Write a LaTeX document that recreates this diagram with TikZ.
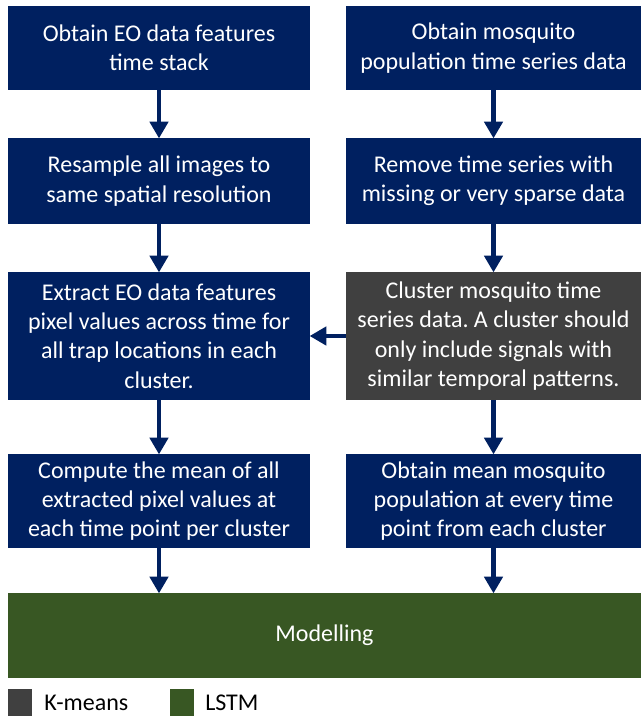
\documentclass[tikz,border=0pt]{standalone}
\usepackage{fontspec}
\setmainfont{Carlito}
\usetikzlibrary{arrows.meta}
\frenchspacing

\definecolor{navy}{RGB}{0,32,96}
\definecolor{kgray}{RGB}{64,64,64}
\definecolor{lgreen}{RGB}{56,87,35}

\tikzset{
  stepbox/.style={rectangle, fill=navy, text=white, align=center,
    inner sep=0pt, font=\fontsize{18}{22}\selectfont},
  flow/.style={draw=navy, line width=3.6pt,
    -{Triangle[width=13.5pt,length=12.5pt]}, shorten >=-0.5pt}
}

\begin{document}
\begin{tikzpicture}[x=0.75pt,y=-0.75pt]
        \useasboundingbox (0,0) rectangle (641,718);

        \begin{scope}[every node/.style={stepbox}]
          % left column: EO data
          \node[minimum width=302*0.75pt, minimum height=84*0.75pt] (eo1) at (159,48)
            {Obtain EO data features\\time stack};
          \node[minimum width=302*0.75pt, minimum height=86*0.75pt] (eo2) at (159,181)
            {Resample all images to\\same spatial resolution};
          \node[minimum width=302*0.75pt, minimum height=128*0.75pt] (eo3) at (159,336)
            {Extract EO data features\\pixel values across time for\\all trap locations in each\\cluster.};
          \node[minimum width=302*0.75pt, minimum height=94*0.75pt] (eo4) at (159,501)
            {Compute the mean of all\\extracted pixel values at\\each time point per cluster};

          % right column: mosquito data
          \node[minimum width=295*0.75pt, minimum height=84*0.75pt] (mq1) at (493.5,48)
            {Obtain mosquito\\population time series data};
          \node[minimum width=295*0.75pt, minimum height=86*0.75pt] (mq2) at (493.5,181)
            {Remove time series with\\missing or very sparse data};
          \node[fill=kgray, minimum width=295*0.75pt, minimum height=128*0.75pt] (mq3) at (493.5,336)
            {Cluster mosquito time\\series data. A cluster should\\only include signals with\\similar temporal patterns.};
          \node[minimum width=295*0.75pt, minimum height=94*0.75pt] (mq4) at (493.5,501)
            {Obtain mean mosquito\\population at every time\\point from each cluster};

          \node[fill=lgreen, minimum width=633*0.75pt, minimum height=85*0.75pt] (model) at (324.5,635.5)
            {Modelling};
        \end{scope}

        % legend
        \node[fill=kgray, minimum width=24*0.75pt, minimum height=27*0.75pt, inner sep=0pt] (kbox) at (20,702.5) {};
        \node[anchor=west, font=\fontsize{18}{22}\selectfont, inner sep=0pt] (ktext) at (44,702.5) {K-means};
        \node[fill=lgreen, minimum width=24*0.75pt, minimum height=27*0.75pt, inner sep=0pt] (lbox) at (182,702.5) {};
        \node[anchor=west, font=\fontsize{18}{22}\selectfont, inner sep=0pt] (ltext) at (205,702.5) {LSTM};

        \begin{scope}[every edge/.style={flow}]
          \path (eo1) edge (eo2);
          \path (eo2) edge (eo3);
          \path (eo3) edge (eo4);
          \path (eo4.south) edge (eo4.south |- model.north);
          \path (mq1) edge (mq2);
          \path (mq2) edge (mq3);
          \path (mq3) edge (mq4);
          \path (mq4.south) edge (mq4.south |- model.north);
          \path (mq3) edge (eo3);
        \end{scope}

      \end{tikzpicture}
\end{document}
